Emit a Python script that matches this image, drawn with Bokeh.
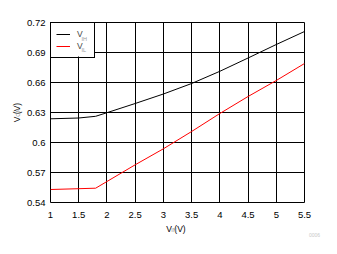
from bokeh.plotting import figure
from bokeh.models import (Range1d, FixedTicker, Legend, LegendItem, Label, ColumnDataSource,
                          BoxAnnotation)
from bokeh.embed import file_html
from bokeh.resources import INLINE
import math

# ---- data ----
vin = [1.0, 1.5, 1.8, 2.0, 2.5, 3.0, 3.5, 4.0, 4.5, 5.0, 5.5]
vih = [0.6237, 0.6245, 0.6262, 0.6298, 0.639, 0.6485, 0.659, 0.6712, 0.6845, 0.698, 0.711]
vil = [0.553, 0.5538, 0.5543, 0.561, 0.5777, 0.5937, 0.611, 0.629, 0.646, 0.662, 0.679]

x_ticks = [1, 1.5, 2, 2.5, 3, 3.5, 4, 4.5, 5, 5.5]
x_tick_labels = ["1", "1.5", "2", "2.5", "3", "3.5", "4", "4.5", "5", "5.5"]
y_ticks = [0.54, 0.57, 0.60, 0.63, 0.66, 0.69, 0.72]
y_tick_labels = ["0.54", "0.57", "0.6", "0.63", "0.66", "0.69", "0.72"]

FONT = "Liberation Sans"
W, H = 337, 254
BL, BR, BT, BB = 50, 33, 22, 52  # borders around the frame
FL, FR, FT, FB = BL, W - BR, BT, H - BB  # frame edges in canvas pixels

p = figure(width=W, height=H, output_backend="svg", toolbar_location=None,
           x_range=Range1d(1, 5.5), y_range=Range1d(0.54, 0.72),
           min_border_left=BL, min_border_right=BR, min_border_top=BT, min_border_bottom=BB)
p.background_fill_color = "white"
p.border_fill_color = "white"
p.outline_line_color = "black"
p.outline_line_width = 1
p.outline_line_alpha = 1

for ax in (p.xaxis[0], p.yaxis[0]):
    ax.axis_line_color = None
    ax.major_tick_out = 0
    ax.major_tick_in = 0
    ax.minor_tick_out = 0
    ax.minor_tick_in = 0
    ax.major_label_text_font = FONT
    ax.major_label_text_font_size = "9.5px"
    ax.major_label_text_color = "black"

p.xaxis[0].ticker = FixedTicker(ticks=x_ticks)
p.yaxis[0].ticker = FixedTicker(ticks=y_ticks)
p.xaxis[0].major_label_overrides = {t: l for t, l in zip(x_ticks, x_tick_labels)}
p.yaxis[0].major_label_overrides = {t: l for t, l in zip(y_ticks, y_tick_labels)}
p.xaxis[0].major_label_standoff = 9
p.yaxis[0].major_label_standoff = 5

p.xgrid[0].ticker = FixedTicker(ticks=x_ticks)
p.ygrid[0].ticker = FixedTicker(ticks=y_ticks)
for g in (p.xgrid[0], p.ygrid[0]):
    g.grid_line_color = "black"
    g.grid_line_alpha = 1
    g.grid_line_width = 1

# white fill behind the legend (hides the grid there); the legend draws its own border
LEG_W, LEG_H = 44, 34
p.add_layout(BoxAnnotation(left=0, right=LEG_W, top=FB - FT, bottom=FB - FT - LEG_H,
                           left_units="screen", right_units="screen",
                           top_units="screen", bottom_units="screen",
                           fill_color="white", fill_alpha=1, line_color=None,
                           level="underlay"))

src = ColumnDataSource(dict(vin=vin, vih=vih, vil=vil))
r1 = p.line("vin", "vih", source=src, line_color="black", line_width=1)
r2 = p.line("vin", "vil", source=src, line_color="#ff0000", line_width=1)

legend = Legend(items=[LegendItem(label="V", renderers=[r1]),
                       LegendItem(label="V", renderers=[r2])],
                location="top_left", margin=0, padding=5, spacing=0,
                glyph_width=14, glyph_height=12, label_height=12, label_width=12,
                label_standoff=7, label_text_font=FONT, label_text_font_size="8.5px",
                border_line_color="black", border_line_width=1, border_line_alpha=1,
                background_fill_alpha=0)
p.add_layout(legend)

GRAY = "#999999"


def lab(text, cx, cy, size, color="black", angle=0.0, place="center", left=FL, bottom=FB,
        level="annotation"):
    """Place a text with its baseline start at canvas pixel (cx, cy).
    left/bottom: canvas position of the panel box the label is measured from."""
    p.add_layout(Label(x=cx - left, y=bottom - cy, x_units="screen", y_units="screen",
                       text=text, text_font=FONT, text_font_size=size, text_color=color,
                       text_align="left", text_baseline="alphabetic", angle=angle,
                       level=level), place)


# legend subscripts (inside the frame)
lab("IH", 81, 38.2, "5.5px", GRAY, level="overlay")
lab("IL", 81, 49.5, "5.5px", GRAY, level="overlay")

# titles live in side panels (not clipped to the frame)
H_BIG = 10     # approx panel size of an 8.5px label
H_SMALL = 6.5  # approx panel size of a 5.5px label
# x axis title: above panel #1 and #2
lab("V  (V)", 165.8, 228.5, "8.5px", place="above", bottom=FT)
lab("IN", 170.8, 229.2, "5.5px", GRAY, place="above", bottom=FT - H_BIG)
# y axis title: right panel #1 and #2 (rotated)
lab("V  (V)", 16.7, 121.7, "8.5px", angle=math.pi / 2, place="right", left=FR)
lab("ON", 17.4, 116.2, "5.5px", GRAY, angle=math.pi / 2, place="right", left=FR + H_BIG)
# figure id: right panel #3
lab("0006", 309, 234, "5px", "#c8c8c8", place="right", left=FR + H_BIG + H_SMALL)

open("out.html", "w").write(file_html(p, INLINE))
